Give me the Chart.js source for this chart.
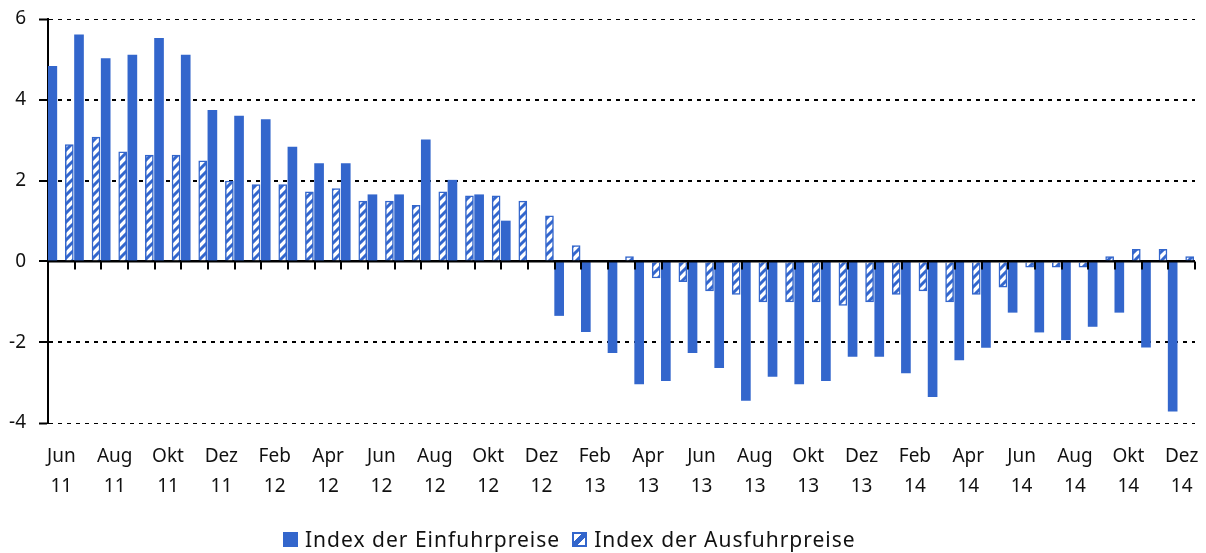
<!DOCTYPE html>
<html>
<head>
<meta charset="utf-8">
<script src="https://cdn.jsdelivr.net/npm/chart.js@4"></script>
<style>
  body{margin:0;background:#fff;}
  #wrap{position:relative;width:1206px;height:553px;}
  #legend{position:absolute;left:283px;top:525px;font:21px "Noto Sans",sans-serif;letter-spacing:1px;color:#111;display:flex;align-items:center;white-space:nowrap;}
  #legend .sw{display:inline-block;width:15px;height:15px;margin-right:7px;box-sizing:border-box;}
  #legend .item{display:flex;align-items:center;margin-right:12px;}
</style>
</head>
<body>
<div id="wrap">
  <canvas id="c" width="1206" height="553"></canvas>
  <div id="legend"></div>
</div>
<script>
// Einfuhr-/Ausfuhrpreise, Veränderung gegenüber Vorjahr in %
const categories = [
  'Jun 11','Jul 11','Aug 11','Sep 11','Okt 11','Nov 11','Dez 11',
  'Jan 12','Feb 12','Mär 12','Apr 12','Mai 12','Jun 12','Jul 12','Aug 12','Sep 12','Okt 12','Nov 12','Dez 12',
  'Jan 13','Feb 13','Mär 13','Apr 13','Mai 13','Jun 13','Jul 13','Aug 13','Sep 13','Okt 13','Nov 13','Dez 13',
  'Jan 14','Feb 14','Mär 14','Apr 14','Mai 14','Jun 14','Jul 14','Aug 14','Sep 14','Okt 14','Nov 14','Dez 14'
];
const einfuhr = [
  4.83, 5.61, 5.02, 5.11, 5.52, 5.11, 3.74,
  3.6, 3.51, 2.83, 2.42, 2.42, 1.65, 1.65, 3.01, 2.01, 1.65, 1.0, 0,
  -1.34, -1.74, -2.26, -3.03, -2.95, -2.26, -2.63, -3.44, -2.85, -3.03, -2.95, -2.35,
  -2.35, -2.76, -3.35, -2.44, -2.13, -1.26, -1.75, -1.94, -1.61, -1.26, -2.12, -3.71
];
const ausfuhr = [
  2.89, 3.08, 2.71, 2.63, 2.63, 2.49, 1.99,
  1.9, 1.9, 1.72, 1.8, 1.49, 1.49, 1.39, 1.72, 1.62, 1.62, 1.49, 1.13,
  0.39, 0, 0.12, -0.41, -0.5, -0.73, -0.82, -1.0, -1.0, -1.0, -1.09, -1.0,
  -0.82, -0.73, -1.0, -0.82, -0.64, -0.14, -0.14, -0.14, 0.12, 0.3, 0.3, 0.12
];
const seriesNames = ['Index der Einfuhrpreise','Index der Ausfuhrpreise'];
const yMin = -4, yMax = 6, yStep = 2;

const BLUE = '#3366cc';
const FONT = '"Noto Sans", sans-serif';

function hatch(){
  const c=document.createElement('canvas'); c.width=9; c.height=9;
  const g=c.getContext('2d');
  g.fillStyle='#fff'; g.fillRect(0,0,9,9);
  g.strokeStyle=BLUE; g.lineWidth=3;
  g.beginPath();
  g.moveTo(-2,11); g.lineTo(11,-2);
  g.moveTo(-2,2); g.lineTo(2,-2);
  g.moveTo(7,11); g.lineTo(11,7);
  g.stroke();
  return g.createPattern(c,'repeat');
}
const hatchFill = hatch();

// zero line + tick marks at category boundaries
const zeroTicks = {
  id:'zeroTicks',
  afterDatasetsDraw(chart){
    const x=chart.scales.x, y=chart.scales.y, ctx=chart.ctx;
    const y0=y.getPixelForValue(0);
    ctx.save();
    ctx.strokeStyle='#000'; ctx.lineWidth=2;
    ctx.beginPath();
    ctx.moveTo(chart.chartArea.left,y0); ctx.lineTo(chart.chartArea.right,y0);
    for(let i=0;i<=categories.length;i++){
      const px=Math.round(x.getPixelForValue(i-0.5));
      ctx.moveTo(px,y0); ctx.lineTo(px,y0+8);
    }
    ctx.stroke();
    ctx.restore();
  }
};

new Chart(document.getElementById('c'),{
  type:'bar',
  data:{
    labels:categories,
    datasets:[
      {label:seriesNames[0],data:einfuhr,backgroundColor:BLUE,borderWidth:0,barThickness:9},
      {label:'',data:categories.map(()=>null)},
      {label:seriesNames[1],data:ausfuhr,backgroundColor:hatchFill,borderColor:BLUE,borderWidth:1.5,barThickness:8}
    ]
  },
  options:{
    responsive:false,
    animation:false,
    categoryPercentage:0.816,
    layout:{padding:{left:0,right:11,top:19,bottom:0}},
    plugins:{legend:{display:false},tooltip:{enabled:false}},
    scales:{
      x:{
        afterFit:s=>{ s.height=130; s.paddingLeft=0; s.paddingRight=0; },
        grid:{display:false,drawTicks:false},
        border:{display:false},
        ticks:{
          autoSkip:false,maxRotation:0,padding:18,color:'#111',
          font:{family:FONT,size:19,lineHeight:1.6},
          callback:(v,i)=> i%2===0 ? categories[i].split(' ') : ''
        }
      },
      y:{
        min:yMin,max:yMax,
        afterFit:s=>{ s.width=48; s.paddingTop=0; s.paddingBottom=0; },
        ticks:{stepSize:yStep,padding:13,color:'#111',font:{family:FONT,size:19}},
        grid:{
          color:'#000',
          lineWidth:c=> (c.tick && (c.tick.value===yMax||c.tick.value===yMin)) ? 1 : 2,
          tickLength:9,tickColor:'#000',tickWidth:2,tickBorderDash:[]
        },
        border:{display:true,color:'#000',width:2,dash:c=> (c.tick && c.tick.value===0) ? [] : [4,5]}
      }
    }
  },
  plugins:[zeroTicks]
});

// legend
const lg=document.getElementById('legend');
seriesNames.forEach((n,i)=>{
  const it=document.createElement('span'); it.className='item';
  const sw=document.createElement('span'); sw.className='sw';
  if(i===0){ sw.style.background=BLUE; }
  else { sw.style.border='2px solid '+BLUE; sw.style.background='linear-gradient(135deg,#fff 35%,'+BLUE+' 35%,'+BLUE+' 65%,#fff 65%)'; }
  const tx=document.createElement('span'); tx.textContent=n;
  it.appendChild(sw); it.appendChild(tx); lg.appendChild(it);
});
</script>
</body>
</html>
